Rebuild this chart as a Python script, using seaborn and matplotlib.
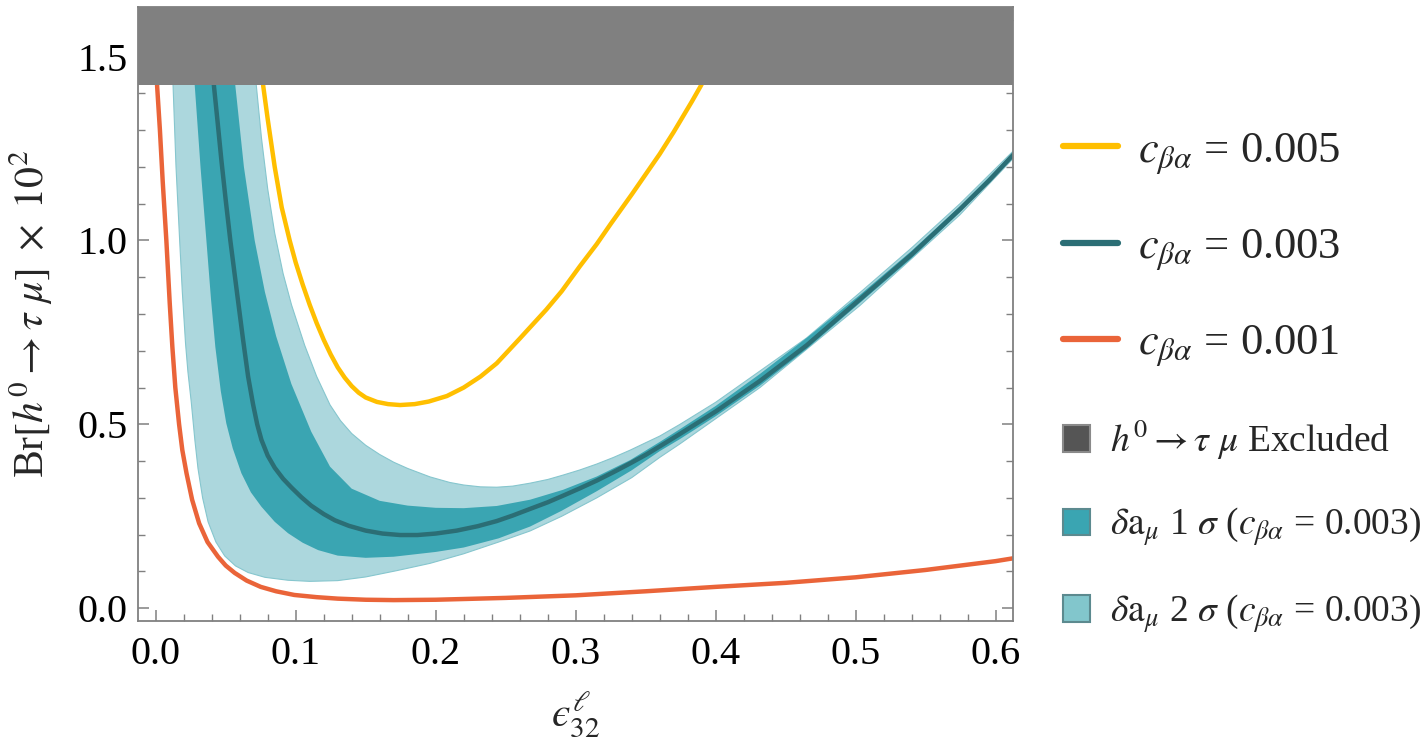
import matplotlib
matplotlib.use("Agg")
import matplotlib.pyplot as plt
import seaborn as sns
from matplotlib.lines import Line2D
from matplotlib.patches import Patch
from matplotlib.ticker import MultipleLocator

# curves: Br x 10^2 vs eps_32
eps_005 = [0.0755, 0.0768, 0.080, 0.085, 0.090, 0.0957, 0.100, 0.105, 0.110, 0.115, 0.120, 0.125,
           0.130, 0.135, 0.140, 0.145, 0.150, 0.158, 0.166, 0.1745, 0.185, 0.195, 0.208, 0.220,
           0.232, 0.2436, 0.260, 0.279, 0.290, 0.303, 0.315, 0.325, 0.340, 0.350, 0.360, 0.370,
           0.383, 0.389, 0.395]
br_005 = [1.50, 1.42, 1.33, 1.20, 1.09, 1.00, 0.94, 0.88, 0.825, 0.775, 0.73, 0.69,
          0.655, 0.627, 0.604, 0.586, 0.573, 0.561, 0.555, 0.5525, 0.555, 0.562, 0.577, 0.60,
          0.63, 0.666, 0.733, 0.812, 0.862, 0.93, 0.99, 1.045, 1.125, 1.18, 1.235, 1.295,
          1.378, 1.418, 1.46]

eps_003 = [0.040, 0.0416, 0.044, 0.047, 0.050, 0.0533, 0.058, 0.0624, 0.066, 0.0695, 0.0725, 0.0755,
           0.080, 0.085, 0.091, 0.097, 0.104, 0.111, 0.120, 0.128, 0.138, 0.150, 0.162, 0.1745,
           0.187, 0.200, 0.215, 0.230, 0.2436, 0.255, 0.2674, 0.280, 0.291, 0.303, 0.315, 0.327,
           0.339, 0.350, 0.360, 0.3745, 0.400, 0.4316, 0.465, 0.503, 0.540, 0.5745, 0.595, 0.613]
br_003 = [1.50, 1.42, 1.33, 1.215, 1.11, 1.00, 0.86, 0.73, 0.63, 0.555, 0.50, 0.458,
          0.415, 0.382, 0.352, 0.328, 0.302, 0.279, 0.256, 0.239, 0.224, 0.211, 0.203, 0.199,
          0.199, 0.203, 0.211, 0.223, 0.237, 0.252, 0.270, 0.288, 0.306, 0.326, 0.347, 0.370,
          0.394, 0.417, 0.440, 0.474, 0.535, 0.618, 0.715, 0.840, 0.962, 1.085, 1.162, 1.235]

eps_001 = [0.0005, 0.001, 0.002, 0.003, 0.005, 0.0076, 0.010, 0.0119, 0.014, 0.0167, 0.019, 0.022,
           0.026, 0.031, 0.037, 0.0445, 0.050, 0.0564, 0.065, 0.075, 0.086, 0.099, 0.115, 0.130,
           0.150, 0.170, 0.200, 0.250, 0.300, 0.350, 0.400, 0.450, 0.500, 0.550, 0.600, 0.613]
br_001 = [1.55, 1.42, 1.36, 1.30, 1.16, 1.00, 0.83, 0.71, 0.60, 0.50, 0.43, 0.367,
          0.295, 0.231, 0.18, 0.14, 0.116, 0.096, 0.075, 0.058, 0.046, 0.036, 0.030, 0.026,
          0.023, 0.022, 0.023, 0.028, 0.035, 0.046, 0.058, 0.069, 0.084, 0.104, 0.128, 0.136]

# delta a_mu bands for c = 0.003 (lower / upper edges)
lo2_x = [0.0115, 0.0124, 0.0145, 0.0171, 0.019, 0.0213, 0.023, 0.0254, 0.028, 0.0302, 0.0335, 0.0374,
         0.043, 0.0493, 0.057, 0.066, 0.078, 0.0945, 0.110, 0.130, 0.150, 0.172, 0.196, 0.220,
         0.245, 0.2674, 0.290, 0.315, 0.340, 0.360, 0.3745, 0.4316, 0.503, 0.5745, 0.613]
lo2_y = [1.50, 1.42, 1.20, 1.00, 0.86, 0.72, 0.643, 0.56, 0.456, 0.38, 0.30, 0.235,
         0.18, 0.142, 0.115, 0.097, 0.084, 0.076, 0.073, 0.075, 0.085, 0.102, 0.122, 0.148,
         0.18, 0.21, 0.25, 0.30, 0.355, 0.41, 0.447, 0.60, 0.823, 1.07, 1.225]
hi2_x = [0.070, 0.0719, 0.0755, 0.080, 0.085, 0.091, 0.097, 0.1064, 0.115, 0.1245, 0.132, 0.140,
         0.150, 0.160, 0.170, 0.180, 0.196, 0.210, 0.220, 0.232, 0.2436, 0.255, 0.2674, 0.280,
         0.291, 0.303, 0.315, 0.327, 0.339, 0.350, 0.360, 0.3745, 0.400, 0.4316, 0.465, 0.503,
         0.540, 0.5745, 0.613]
hi2_y = [1.50, 1.42, 1.28, 1.14, 1.02, 0.91, 0.825, 0.715, 0.63, 0.553, 0.51, 0.475,
         0.443, 0.418, 0.397, 0.38, 0.357, 0.342, 0.335, 0.33, 0.329, 0.332, 0.34, 0.35,
         0.362, 0.376, 0.392, 0.41, 0.43, 0.45, 0.468, 0.50, 0.56, 0.645, 0.735, 0.858,
         0.98, 1.10, 1.245]

lo1_x = [0.0265, 0.0279, 0.032, 0.0362, 0.0395, 0.0426, 0.0465, 0.0504, 0.055, 0.0612, 0.068, 0.0755,
         0.085, 0.0945, 0.105, 0.116, 0.130, 0.150, 0.170, 0.200, 0.220, 0.245, 0.2674, 0.290,
         0.315, 0.340, 0.360, 0.3745, 0.400, 0.4316, 0.465, 0.503, 0.540, 0.5745, 0.613]
lo1_y = [1.50, 1.42, 1.20, 1.00, 0.84, 0.71, 0.59, 0.503, 0.435, 0.367, 0.315, 0.276,
         0.235, 0.204, 0.178, 0.158, 0.143, 0.137, 0.14, 0.153, 0.165, 0.19, 0.222, 0.265,
         0.318, 0.375, 0.427, 0.46, 0.522, 0.605, 0.705, 0.83, 0.952, 1.077, 1.23]
hi1_x = [0.0555, 0.0569, 0.063, 0.0707, 0.078, 0.086, 0.0969, 0.1111, 0.1245, 0.140, 0.160, 0.180,
         0.200, 0.220, 0.2436, 0.2674, 0.291, 0.315, 0.339, 0.360, 0.3745, 0.400, 0.4316, 0.465,
         0.503, 0.540, 0.5745, 0.613]
hi1_y = [1.50, 1.42, 1.20, 1.00, 0.86, 0.74, 0.61, 0.48, 0.385, 0.325, 0.292, 0.279,
         0.273, 0.272, 0.278, 0.295, 0.322, 0.358, 0.403, 0.452, 0.487, 0.55, 0.637, 0.735,
         0.852, 0.972, 1.093, 1.24]

excluded_from = 1.422

YELLOW = "#FFBF00"
TEAL = "#2B6E75"
ORANGE = "#EA6439"
BAND1 = "#3AA5B2"
BAND2 = "#ACD7DD"
GRAY = "#808080"

sns.set_style("ticks")
plt.rcParams["font.family"] = ["Liberation Serif", "DejaVu Serif"]
plt.rcParams["mathtext.fontset"] = "stix"

fig = plt.figure(figsize=(14.28, 7.43), dpi=100)
ax = fig.add_axes([0.0964, 0.1646, 0.6130, 0.8260])

ax.fill(lo2_x + hi2_x[::-1], lo2_y + hi2_y[::-1], color=BAND2, ec="#86C6CE", lw=0.8, zorder=1.0)
ax.fill(lo1_x + hi1_x[::-1], lo1_y + hi1_y[::-1], color=BAND1, lw=0, zorder=1.2)

sns.lineplot(x=eps_005, y=br_005, color=YELLOW, lw=3.2, ax=ax, zorder=2)
sns.lineplot(x=eps_003, y=br_003, color=TEAL, lw=3.2, ax=ax, zorder=2)
sns.lineplot(x=eps_001, y=br_001, color=ORANGE, lw=3.2, ax=ax, zorder=2)

ax.axhspan(excluded_from, 1.8, color=GRAY, lw=0, zorder=2.2)

ax.set_xlim(-0.0129, 0.6124)
ax.set_ylim(-0.034, 1.635)
ax.xaxis.set_major_locator(MultipleLocator(0.1))
ax.xaxis.set_minor_locator(MultipleLocator(0.02))
ax.yaxis.set_major_locator(MultipleLocator(0.5))
ax.yaxis.set_minor_locator(MultipleLocator(0.1))
ax.tick_params(which="both", direction="in", top=True, right=True, color=GRAY,
               labelsize=29, labelcolor="black")
ax.tick_params(which="major", length=8, width=1.1)
ax.tick_params(which="minor", length=5, width=1.0)
ax.tick_params(axis="x", pad=11)
ax.tick_params(axis="y", pad=7)
for sp in ax.spines.values():
    sp.set_color(GRAY)
    sp.set_linewidth(1.3)

ax.set_xlabel("$\u03f5^{\\ell}_{32}$", fontsize=30, labelpad=12)
ax.set_ylabel(r"Br$[h^0 \rightarrow \tau\ \mu]\ \times\ 10^2$", fontsize=30, labelpad=16)

line_handles = [
    Line2D([], [], color=YELLOW, lw=4.5),
    Line2D([], [], color=TEAL, lw=4.5),
    Line2D([], [], color=ORANGE, lw=4.5),
]
line_labels = [r"$c_{\beta\alpha}$ = 0.005", r"$c_{\beta\alpha}$ = 0.003", r"$c_{\beta\alpha}$ = 0.001"]
leg1 = fig.legend(line_handles, line_labels, loc="center left", bbox_to_anchor=(0.7444, 0.664),
                  frameon=False, fontsize=32, handlelength=1.24, handletextpad=0.45,
                  labelspacing=1.15, borderpad=0, borderaxespad=0)

patch_handles = [
    Patch(facecolor="#555555", edgecolor="#8a8a8a", lw=1.5),
    Patch(facecolor="#3AA5B2", edgecolor="#5c8a8f", lw=1.5),
    Patch(facecolor="#82C6CC", edgecolor="#5c8a8f", lw=1.5),
]
patch_labels = [
    r"$h^0 \rightarrow \tau\ \mu$ Excluded",
    r"$\delta\mathrm{a}_{\mu}$ 1 $\sigma$ ($c_{\beta\alpha}$ = 0.003)",
    r"$\delta\mathrm{a}_{\mu}$ 2 $\sigma$ ($c_{\beta\alpha}$ = 0.003)",
]
leg2 = fig.legend(patch_handles, patch_labels, loc="center left", bbox_to_anchor=(0.7444, 0.292),
                  frameon=False, fontsize=27, handlelength=0.72, handleheight=0.72,
                  handletextpad=0.53, labelspacing=1.17, borderpad=0, borderaxespad=0)

fig.savefig("out.png", dpi=100)
